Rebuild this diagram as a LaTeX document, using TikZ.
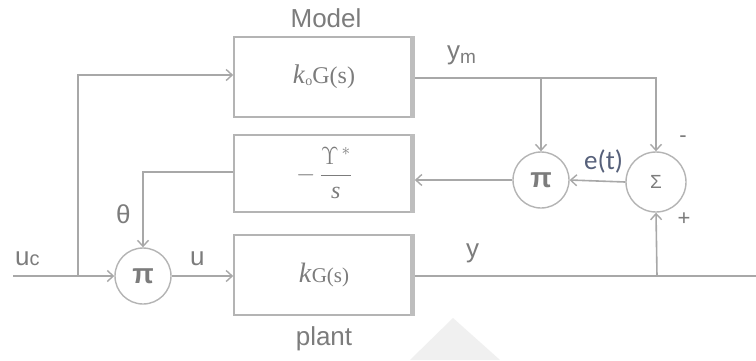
\documentclass[tikz,border=0pt]{standalone}
\usepackage{fontspec}
\setmainfont{Liberation Serif}
\setsansfont{Liberation Sans}
\newfontfamily\calfont{Carlito}
\usetikzlibrary{arrows.meta}
\definecolor{wire}{HTML}{A8A8A8}
\definecolor{edge}{HTML}{B4B4B4}
\definecolor{edgeshadow}{HTML}{BEBEBE}
\definecolor{ink}{HTML}{7C7C7C}
\definecolor{errink}{HTML}{56607A}
\begin{document}
\begin{tikzpicture}[x=1pt,y=-1pt,
  wireline/.style={draw=wire,line width=1.6pt},
  arr/.style={wireline,-{Straight Barb[length=6pt,width=11pt,line width=1.4pt]}},
  blockbox/.style={draw=edge,line width=1.6pt,fill=white,minimum width=180pt,minimum height=80pt,inner sep=0pt},
  opcircle/.style={circle,draw=edge,line width=1.4pt,minimum size=56pt,inner sep=0pt,font=\sffamily\bfseries\fontsize{28}{28}\selectfont,text=ink},
  lbl/.style={font=\sffamily\fontsize{26}{28}\selectfont,text=ink,inner sep=0pt,anchor=base west},
  smalllbl/.style={font=\sffamily\fontsize{22}{24}\selectfont,text=ink,inner sep=0pt}]
\useasboundingbox (0,0) rectangle (756,360);
\fill[white] (0,0) rectangle (756,360);
% faint mark near the bottom edge
\fill[black!6] (453,318) -- (500,360) -- (410,360) -- cycle;

% blocks
\node[blockbox] (model) at (324,77) {\color{ink}\fontsize{27}{28}\selectfont\textit{k}\raisebox{-2pt}{\fontsize{14}{14}\selectfont o}\fontsize{24}{26}\selectfont G(s)};
\node[blockbox,minimum height=77pt] (gain) at (324,173.5) {\color{ink}\fontsize{24}{26}\selectfont$\displaystyle-\,\frac{\Upsilon^{\,*}}{\hbox{\textit{s}}}$};
\node[blockbox] (plant) at (324,275) {\color{ink}\fontsize{28}{28}\selectfont\textit{k}\fontsize{21}{24}\selectfont G(s)};
\foreach \b in {model,gain,plant}
  \draw[draw=edgeshadow,line width=5pt] ([xshift=-2.5pt]\b.north east) -- ([xshift=-2.5pt]\b.south east);

\node[lbl,anchor=base] (modeltxt) at (326,27) {Model};
\node[lbl,anchor=base] (planttxt) at (324,345) {plant};

% operators
\node[opcircle] (mulu) at (143,276) {π};
\node[opcircle] (mule) at (541,180) {π};
\node[opcircle,minimum size=60pt,font=\sffamily\fontsize{19}{20}\selectfont] (sum) at (656,182) {Σ};

% coordinates for wires
\coordinate (uin) at (13,276);
\coordinate (usplit) at (78,276);
\coordinate (ysplit) at (657,276);
\coordinate (yout) at (756,276);
\coordinate (ymsplit) at (541,78);

% command signal to model and multiplier
\draw[wireline] (uin) -- (usplit);
\draw[arr] (usplit) -- (mulu.west);
\draw[arr] (usplit) |- (model.west |- 0,75);
\draw[arr] (mulu.east) -- (plant.west |- mulu.east);

% model output
\draw[wireline] (model.east |- 0,78) -- (ymsplit);
\draw[arr] (ymsplit) -| (sum.north);
\draw[arr] (ymsplit) -- (mule.north);

% plant output
\draw[wireline] (plant.east |- 0,276) -- (yout);
\draw[arr] (ysplit) -- (sum.south);

% adaptation loop
\draw[arr] (sum.west) -- (mule.east);
\draw[arr] (mule.west) -- (gain.east |- mule.west);
\draw[arr] (gain.west |- 0,172) -| (mulu.north);

% signal labels
\node[lbl] (uclbl) at (15,265) {u{\fontsize{20}{20}\selectfont c}};
\node[lbl] (ulbl) at (190,265) {u};
\node[lbl] (thlbl) at (116,223) {θ};
\node[lbl] (ymlbl) at (447,59) {y\raisebox{-4pt}{\fontsize{19}{20}\selectfont m}};
\node[lbl] (ylbl) at (466,257) {y};
\node[font=\calfont\fontsize{27}{28}\selectfont,text=errink,inner sep=0pt,anchor=base west] (elbl) at (584,169) {e(t)};
\node[smalllbl] (minus) at (683,139) {-};
\node[smalllbl] (plus) at (684,219) {+};
\end{tikzpicture}
\end{document}
